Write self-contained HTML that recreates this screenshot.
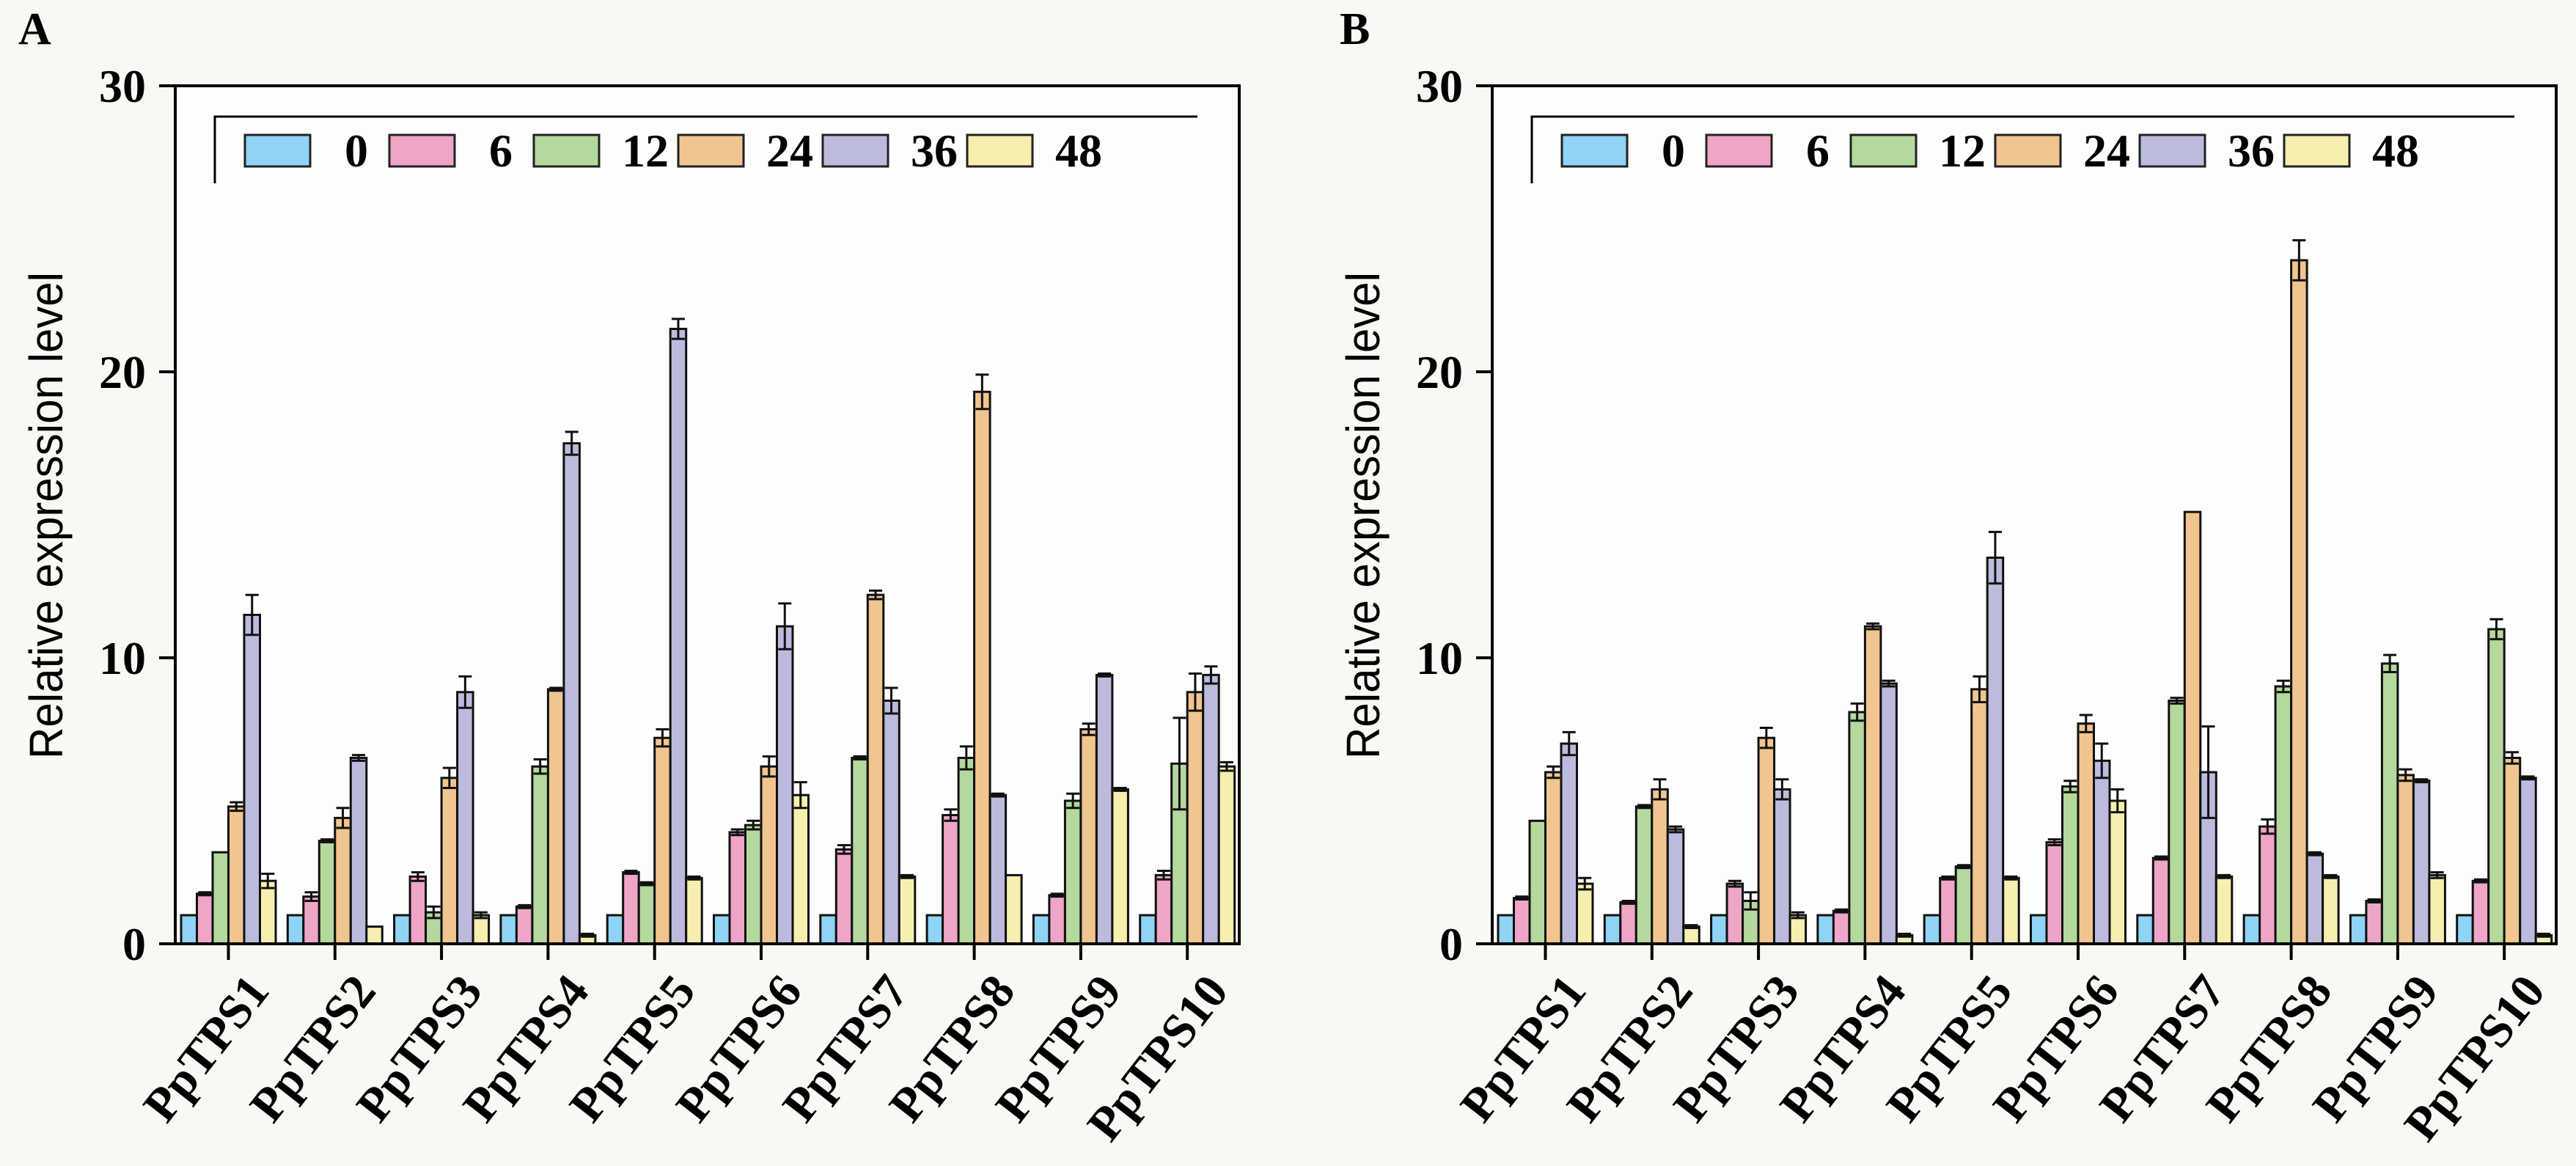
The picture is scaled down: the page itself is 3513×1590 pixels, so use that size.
<!DOCTYPE html>
<html><head><meta charset="utf-8"><style>
html,body{margin:0;padding:0;background:#f8f8f4;}
svg{display:block;font-family:"Liberation Serif","Times New Roman",serif;}
.sans{font-family:"Liberation Sans",Arial,sans-serif;}
</style></head><body>
<svg id="chart" width="3513" height="1590" viewBox="0 0 3513 1590" xmlns="http://www.w3.org/2000/svg">
<rect x="0" y="0" width="3513" height="1590" fill="#f8f8f4"/>
</svg>
<script>
const categories = ["PpTPS1","PpTPS2","PpTPS3","PpTPS4","PpTPS5","PpTPS6","PpTPS7","PpTPS8","PpTPS9","PpTPS10"];
const seriesNames = ["0","6","12","24","36","48"];
const yTicks = [0,10,20,30];
// Panel A values per series (0h,6h,12h,24h,36h,48h) across categories
const a0 = [1,1,1,1,1,1,1,1,1,1];
const a6 = [1.75,1.65,2.35,1.3,2.5,3.9,3.3,4.5,1.7,2.4];
const a12 = [3.2,3.6,1.1,6.2,2.1,4.15,6.5,6.5,5.0,6.3];
const a24 = [4.8,4.4,5.8,8.9,7.2,6.2,12.2,19.3,7.5,8.8];
const a36 = [11.5,6.5,8.8,17.5,21.5,11.1,8.5,5.2,9.4,9.4];
const a48 = [2.2,0.6,1.0,0.3,2.3,5.2,2.35,2.4,5.4,6.2];
const ae0 = [0,0,0,0,0,0,0,0,0,0];
const ae6 = [0.05,0.15,0.15,0.05,0.05,0.1,0.15,0.2,0.05,0.15];
const ae12 = [0,0.05,0.2,0.25,0.05,0.15,0.05,0.4,0.25,1.6];
const ae24 = [0.15,0.35,0.35,0.05,0.3,0.35,0.15,0.6,0.2,0.65];
const ae36 = [0.7,0.1,0.55,0.4,0.35,0.8,0.45,0.05,0.05,0.3];
const ae48 = [0.25,0,0.1,0.05,0.05,0.45,0.05,0,0.05,0.15];
// Panel B
const b0 = [1,1,1,1,1,1,1,1,1,1];
const b6 = [1.6,1.45,2.1,1.15,2.3,3.55,3.0,4.1,1.5,2.2];
const b12 = [4.3,4.8,1.5,8.1,2.7,5.5,8.5,9.0,9.8,11.0];
const b24 = [6.0,5.4,7.2,11.1,8.9,7.7,15.1,23.9,5.9,6.5];
const b36 = [7.0,4.0,5.4,9.1,13.5,6.4,6.0,3.15,5.7,5.8];
const b48 = [2.1,0.6,1.0,0.3,2.3,5.0,2.35,2.35,2.4,0.3];
const be0 = [0,0,0,0,0,0,0,0,0,0];
const be6 = [0.05,0.05,0.1,0.05,0.05,0.1,0.05,0.25,0.05,0.05];
const be12 = [0,0.05,0.3,0.3,0.05,0.2,0.1,0.2,0.3,0.35];
const be24 = [0.2,0.35,0.35,0.1,0.45,0.3,0,0.7,0.2,0.2];
const be36 = [0.4,0.1,0.35,0.1,0.9,0.6,1.6,0.05,0.05,0.05];
const be48 = [0.2,0.05,0.1,0.05,0.05,0.4,0.05,0.05,0.1,0.05];

const colors = ["#8fd3f5","#efa5c8","#b5d89c","#f0c590","#bbbcdd","#f7efaf"];
const NS = "http://www.w3.org/2000/svg";
const svg = document.getElementById("chart");
function mk(tag, attrs, parent){ const e=document.createElementNS(NS,tag); for(const k in attrs) e.setAttribute(k,attrs[k]); (parent||svg).appendChild(e); return e; }

function panel(id, axX, label, labelX, vals, errs){
  const g = mk("g",{});
  
  
  const W = 1451, top = 117, y0 = 1287;
  const yScale = v => y0 - v*(y0-top)/30;
  const gw = 145.3, bw = 21.5;
  const xCenter = i => axX + 72.5 + i*gw;
  const bg = mk("rect",{x:axX,y:top,width:W,height:y0-top,fill:"#fdfdfb"},g);
  
  
  const pl = mk("text",{x:labelX,y:60,"font-size":62,"font-weight":"bold"},g);
  pl.textContent = label;
  
  
  for(let s=0;s<6;s++){
    for(let i=0;i<categories.length;i++){
      const v = vals[s][i], e = errs[s][i];
      const x = xCenter(i) - 3*bw + s*bw;
      const r = mk("rect",{x:x,y:yScale(v),width:bw,height:y0-yScale(v),fill:colors[s],stroke:"#111","stroke-width":3},g);
      
      
      if(e>0){
        const cx = x+bw/2, y1=yScale(v+e), y2=yScale(v-e), cw=9;
        const p = mk("path",{d:`M${cx},${y1}V${y2}M${cx-cw},${y1}H${cx+cw}M${cx-cw},${y2}H${cx+cw}`,stroke:"#111","stroke-width":3,fill:"none"},g);
        
        
      }
    }
  }
  const fr = mk("path",{d:`M${axX-22},${top}H${axX+W}V${y0}H${axX-22}M${axX},${top}V${y0}`,stroke:"#000","stroke-width":4,fill:"none"},g);
  
  
  yTicks.forEach(t=>{
    const y=yScale(t);
    const tk = mk("line",{x1:axX-22,x2:axX,y1:y,y2:y,stroke:"#000","stroke-width":4},g);
    
    
    const tl = mk("text",{x:axX-40,y:y+22,"font-size":64,"font-weight":"bold","text-anchor":"end"},g);
    tl.textContent = t;
    
    
  });
  categories.forEach((c,i)=>{
    const x=xCenter(i);
    const tk = mk("line",{x1:x,x2:x,y1:y0,y2:y0+22,stroke:"#000","stroke-width":4},g);
    
    
    const ax = x+58, ay = 1352;
    const tl = mk("text",{x:ax,y:ay,"font-size":66,"font-weight":"bold","text-anchor":"end",transform:`rotate(-52 ${ax} ${ay})`},g);
    tl.textContent = c;
    
    
  });
  const yt = mk("text",{x:0,y:0,"font-size":64,"text-anchor":"middle","class":"sans",textLength:664,lengthAdjust:"spacingAndGlyphs",transform:`translate(${axX-154},703) rotate(-90)`},g);
  yt.textContent = "Relative expression level";
  
  
  const lg = mk("g",{},g);
  
  
  const lx = axX+54, lr = axX+1394;
  const lf = mk("path",{d:`M${lx},250V159H${lr}`,stroke:"#000","stroke-width":3,fill:"none"},lg);
  
  
  seriesNames.forEach((n,s)=>{
    const sx = axX+95 + s*197;
    const sw = mk("rect",{x:sx,y:184,width:89,height:43,fill:colors[s],stroke:"#222","stroke-width":3},lg);
    
    
    const st = mk("text",{x:sx+152,y:227,"font-size":64,"font-weight":"bold","text-anchor":"middle"},lg);
    st.textContent = n;
    
    
  });
}
panel("a", 239, "A", 25, [a0,a6,a12,a24,a36,a48], [ae0,ae6,ae12,ae24,ae36,ae48]);
panel("b", 2035, "B", 1827, [b0,b6,b12,b24,b36,b48], [be0,be6,be12,be24,be36,be48]);
</script>
</body></html>
